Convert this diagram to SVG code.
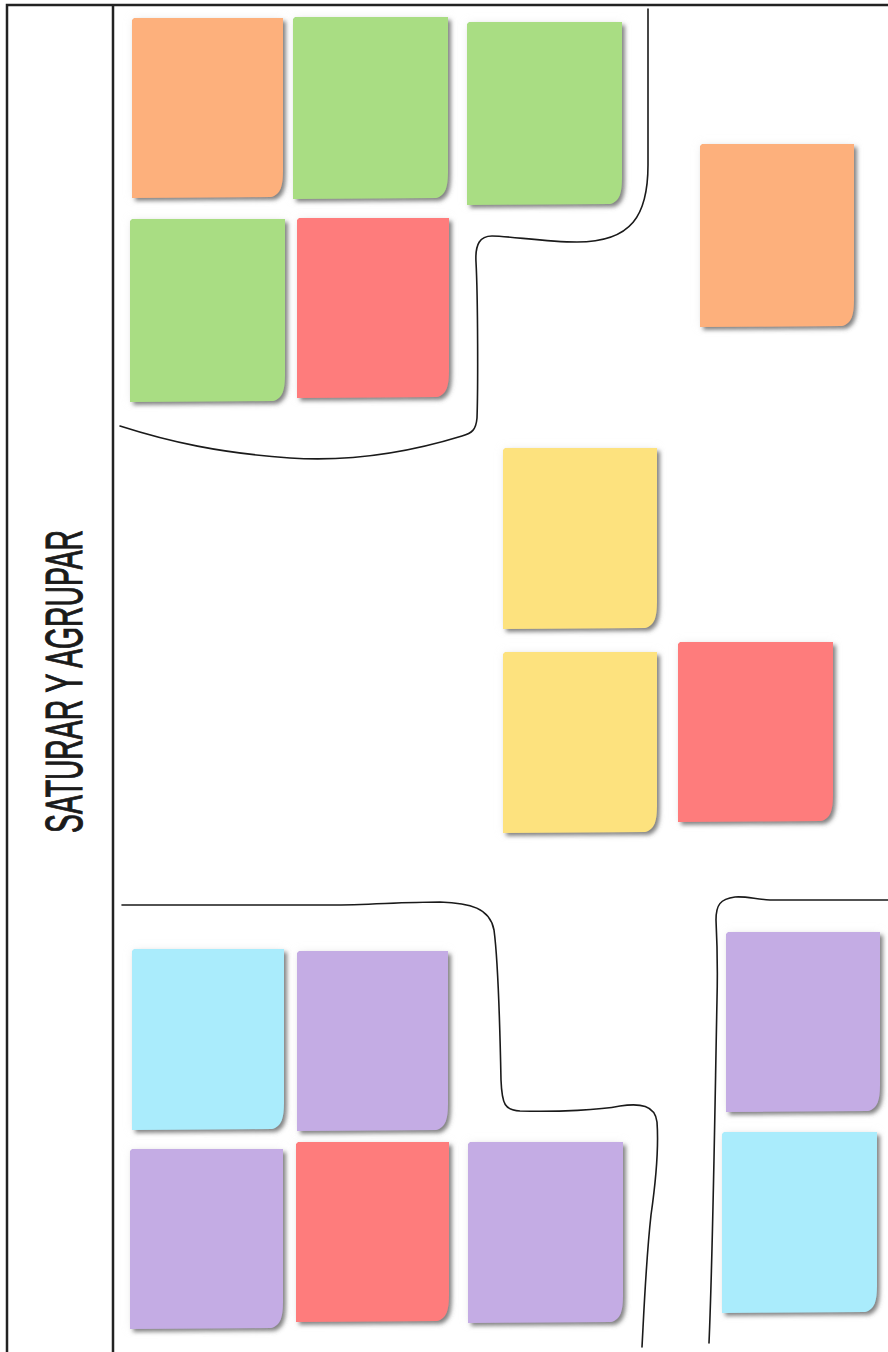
<svg xmlns="http://www.w3.org/2000/svg" width="888" height="1352" viewBox="0 0 888 1352">
<defs>
<filter id="sh" x="-10%" y="-10%" width="125%" height="125%">
<feGaussianBlur in="SourceAlpha" stdDeviation="4" result="halo"/>
<feFlood flood-color="#d8d8d8" flood-opacity="0.35"/>
<feComposite in2="halo" operator="in" result="haloC"/>
<feGaussianBlur in="SourceAlpha" stdDeviation="2" result="b"/>
<feOffset in="b" dx="3" dy="3" result="o"/>
<feFlood flood-color="#555" flood-opacity="0.75"/>
<feComposite in2="o" operator="in" result="shadow"/>
<feMerge><feMergeNode in="haloC"/><feMergeNode in="shadow"/><feMergeNode in="SourceGraphic"/></feMerge>
</filter>
</defs>
<style>
.frame{fill:none;stroke:#222;stroke-width:2.5}
.ln{fill:none;stroke:#1a1a1a;stroke-width:1.6;stroke-linecap:round}
.note{filter:url(#sh)}
.or{fill:#FDB07B}.gr{fill:#A9DD83}.rd{fill:#FE7C7C}.ye{fill:#FDE27E}.cy{fill:#AAECFC}.pu{fill:#C4ACE4}
.title{font-family:"Liberation Sans Narrow","Liberation Sans",Arial,sans-serif;font-size:51px;font-weight:normal;fill:#1a1a1a;stroke:#1a1a1a;stroke-width:1.1}
</style>
<rect width="888" height="1352" fill="#ffffff"/>
<g id="frame">
<path class="frame" d="M7,1352 V5 H888"/>
<path class="frame" d="M113,5 V1352"/>
</g>
<g id="title">
<text class="title" transform="translate(82,681.5) rotate(-90)" text-anchor="middle" textLength="303" lengthAdjust="spacingAndGlyphs">SATURAR Y AGRUPAR</text>
</g>
<g id="connectors">
<path class="ln" d="M648,9 L648,165 C648,215 632,242 577,242 C545,242 510,236 492,236 C480,236 475,244 476,262 C478,300 478,390 477,418 C476,430 472,433 462,436 C410,452 350,462 290,458 C220,453 170,442 120,426"/>
<path class="ln" d="M122,905 L330,905 C370,905 400,902 440,902 C470,903 490,908 494,930 C498,960 500,1030 501,1080 C502,1105 505,1110 520,1111 C560,1112 600,1110 620,1106 C640,1103 655,1105 657,1122 C659,1150 656,1180 651,1215 C646,1260 644,1310 642,1347"/>
<path class="ln" d="M888,900 L770,900 C755,899 745,896 735,897 C720,899 716,905 716,920 C717,940 718,960 717,1000 C715,1100 713,1250 709,1343"/>
</g>
<g id="n1" class="note"><path class="or" d="M134,18 H283 V168 C283,186 281,194 271,197 L132,198 V20 Z"/></g>
<g id="n2" class="note"><path class="gr" d="M295,17 H448 V169 C448,187 446,195 436,198 L293,199 V19 Z"/></g>
<g id="n3" class="note"><path class="gr" d="M469,22 H622 V175 C622,193 620,201 610,204 L467,205 V24 Z"/></g>
<g id="n4" class="note"><path class="gr" d="M132,219 H285 V372 C285,390 283,398 273,401 L130,402 V221 Z"/></g>
<g id="n5" class="note"><path class="rd" d="M299,218 H449 V368 C449,386 447,394 437,397 L297,398 V220 Z"/></g>
<g id="n6" class="note"><path class="or" d="M702,144 H854 V297 C854,315 852,323 842,326 L700,327 V146 Z"/></g>
<g id="n7" class="note"><path class="ye" d="M505,448 H657 V599 C657,617 655,625 645,628 L503,629 V450 Z"/></g>
<g id="n8" class="note"><path class="ye" d="M505,652 H657 V803 C657,821 655,829 645,832 L503,833 V654 Z"/></g>
<g id="n9" class="note"><path class="rd" d="M680,642 H833 V792 C833,810 831,818 821,821 L678,822 V644 Z"/></g>
<g id="n10" class="note"><path class="cy" d="M134,949 H284 V1100 C284,1118 282,1126 272,1129 L132,1130 V951 Z"/></g>
<g id="n11" class="note"><path class="pu" d="M299,951 H448 V1101 C448,1119 446,1127 436,1130 L297,1131 V953 Z"/></g>
<g id="n12" class="note"><path class="pu" d="M132,1149 H283 V1299 C283,1317 281,1325 271,1328 L130,1329 V1151 Z"/></g>
<g id="n13" class="note"><path class="rd" d="M298,1142 H449 V1292 C449,1310 447,1318 437,1321 L296,1322 V1144 Z"/></g>
<g id="n14" class="note"><path class="pu" d="M470,1142 H623 V1293 C623,1311 621,1319 611,1322 L468,1323 V1144 Z"/></g>
<g id="n15" class="note"><path class="pu" d="M728,932 H880 V1082 C880,1100 878,1108 868,1111 L726,1112 V934 Z"/></g>
<g id="n16" class="note"><path class="cy" d="M724,1132 H877 V1283 C877,1301 875,1309 865,1312 L722,1313 V1134 Z"/></g>
</svg>
